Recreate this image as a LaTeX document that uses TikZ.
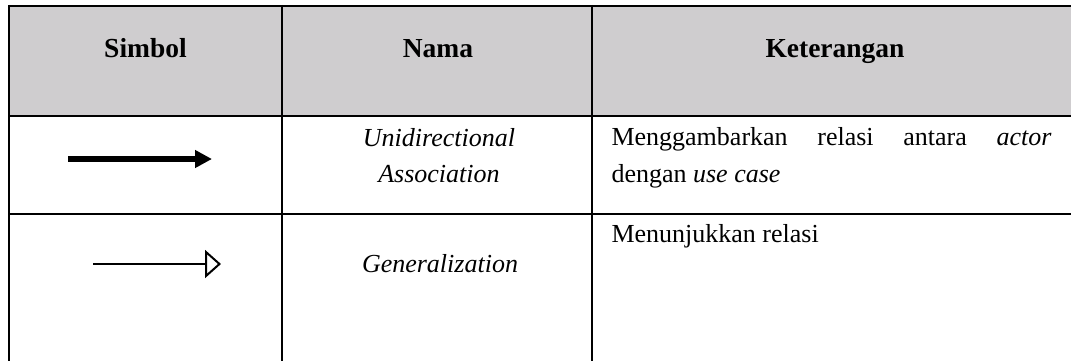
\documentclass[tikz,border=0pt]{standalone}
\usepackage{fontspec}
\setmainfont{Liberation Serif}
\usetikzlibrary{arrows.meta}
\definecolor{hdrgray}{RGB}{207,205,207}
\tikzset{
  gridline/.style={line width=2.4pt, black},
  hdrtext/.style={font=\fontsize{27.5}{30}\selectfont\bfseries, anchor=base},
  bodytext/.style={font=\fontsize{26}{37}\selectfont, anchor=base west},
  nametext/.style={font=\fontsize{26}{37}\selectfont\itshape, anchor=base},
}
\begin{document}
\begin{tikzpicture}[x=1pt,y=-1pt]
\useasboundingbox (0,0) rectangle (1071,360);
\clip (0,0) rectangle (1071,360);
\fill[hdrgray] (9,6) rectangle (1090,116);
% grid
\draw[gridline] (9,6) -- (1090,6);
\draw[gridline] (9,116) -- (1090,116);
\draw[gridline] (9,214) -- (1090,214);
\draw[gridline] (9,4.8) -- (9,365);
\draw[gridline] (282,4.8) -- (282,365);
\draw[gridline] (592,4.8) -- (592,365);
% header
\node[hdrtext] (hs) at (145.5,57) {Simbol};
\node[hdrtext] (hn) at (438,57) {Nama};
\node[hdrtext] (hk) at (835,57) {Keterangan};
% row 1
\coordinate (a1s) at (68,159);
\coordinate (a1e) at (212,159);
\draw[line width=6pt, -{Triangle[length=17pt,width=17pt]}] (a1s) -- (a1e);
\node[nametext] (n1a) at (439,146) {Unidirectional};
\node[nametext] (n1b) at (439,182) {Association};
\node[bodytext] (k1a) at (608,145) {\makebox[440pt][s]{Menggambarkan relasi antara \textit{actor}}};
\node[bodytext] (k1b) at (608,182) {dengan \textit{use case}};
% row 2
\coordinate (a2s) at (93,264);
\coordinate (a2e) at (221,264);
\draw[line width=2pt, -{Triangle[open,length=16pt,width=28pt,line width=2pt]}] (a2s) -- (a2e);
\node[nametext] (n2) at (440,272) {Generalization};
\node[bodytext] (k2) at (608,242) {Menunjukkan relasi};
\end{tikzpicture}
\end{document}
